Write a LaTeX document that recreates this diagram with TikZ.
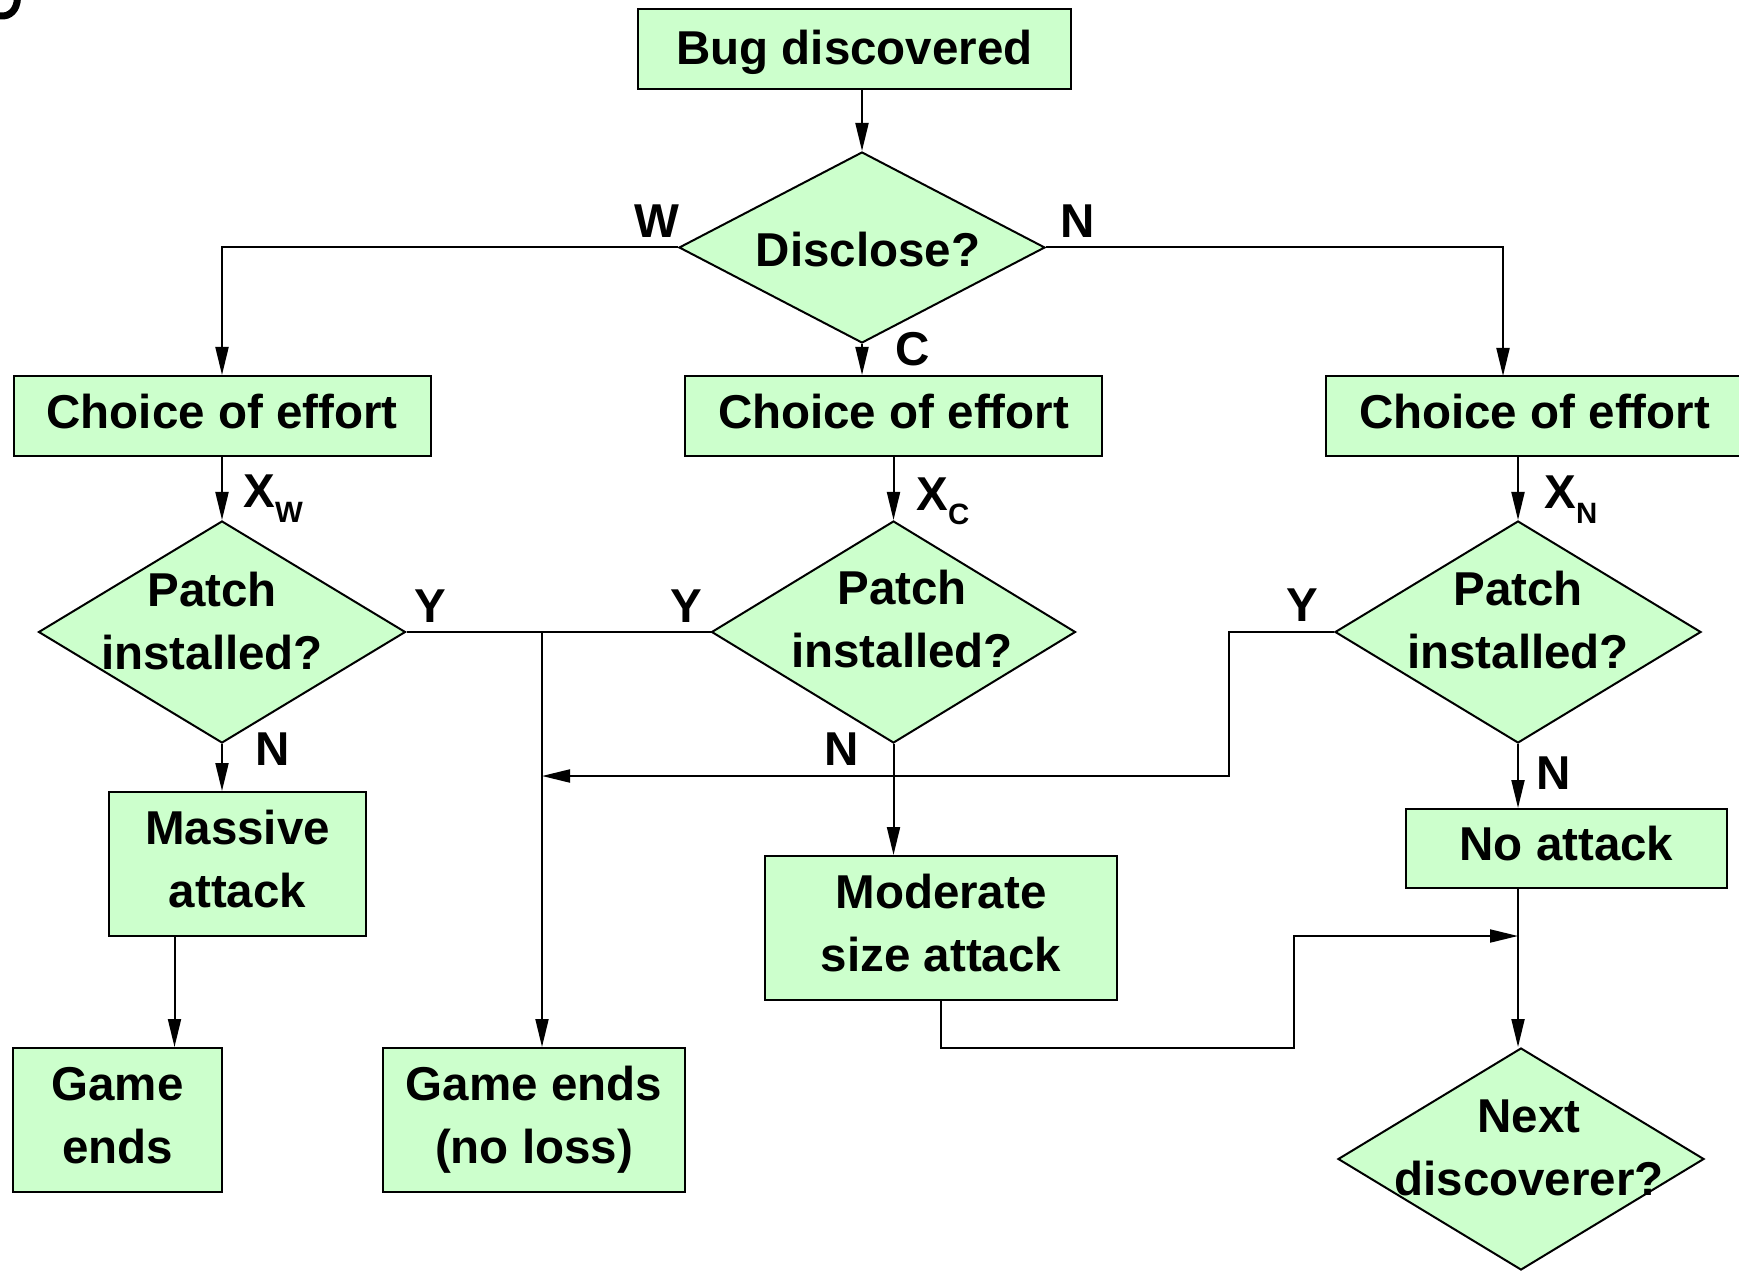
\documentclass[tikz,border=0pt]{standalone}
\usepackage{fontspec}
\setmainfont{Liberation Sans}
\usetikzlibrary{shapes.geometric,arrows.meta}
\definecolor{boxgreen}{RGB}{204,255,204}
\newcommand{\bigf}{\fontsize{23.75}{31.5}\selectfont\bfseries}
\newcommand{\subf}{\fontsize{14.7}{15}\selectfont\bfseries}
\newcommand{\lowstrut}{\rule[-5pt]{0pt}{5pt}}
\begin{document}
\begin{tikzpicture}[x=0.5pt,y=-0.5pt,
  box/.style={draw=black, line width=1pt, fill=boxgreen, rectangle, inner sep=0pt, font=\bigf, align=center},
  dia/.style={draw=black, line width=1pt, fill=boxgreen, diamond, inner sep=0pt},
  dtext/.style={inner sep=0pt, font=\bigf, align=center},
  lbl/.style={inner sep=0pt, font=\bigf},
  arr/.style={line width=1pt, -{Triangle[length=14pt,width=6.5pt]}},
  conn/.style={line width=1pt}]
\useasboundingbox (0,0) rectangle (1739,1272);
\clip (0,0) rectangle (1739,1272);
% fragment at top left
\draw[line width=3.5pt] (0,16) .. controls (10,17) and (17,10) .. (17.5,-2);
% rectangles
\node[box, minimum width=216.5pt, minimum height=40pt] (bug) at (854.5,49) {\rule{0pt}{21pt}Bug discovered\lowstrut};
\node[box, minimum width=208.5pt, minimum height=40pt] (coeL) at (222,416) {Choice of effort\lowstrut};
\node[box, minimum width=208.5pt, minimum height=40pt] (coeC) at (893.5,416) {Choice of effort\lowstrut};
\node[box, minimum width=208.5pt, minimum height=40pt] (coeR) at (1534.5,416) {Choice of effort\lowstrut};
\node[box, minimum width=128.5pt, minimum height=72pt] (mas) at (237.5,864) {Massive\\attack\lowstrut};
\node[box, minimum width=176pt, minimum height=72pt] (mod) at (941,928) {Moderate\\size attack\lowstrut};
\node[box, minimum width=160.5pt, minimum height=39.5pt] (noa) at (1566.5,848.5) {No attack\lowstrut};
\node[box, minimum width=104.5pt, minimum height=72pt] (ge1) at (117.5,1120) {Game\\ends\lowstrut};
\node[box, minimum width=151pt, minimum height=72pt] (ge2) at (534,1120) {Game ends\\(no loss)\lowstrut};
% diamonds
\node[dia, minimum width=183pt, minimum height=95.5pt] (dis) at (862,247.5) {};
\node[dtext] (disT) at (868,250) {Disclose?};
\node[dia, minimum width=183.5pt, minimum height=111pt] (pL) at (222,632) {};
\node[dtext] (pLT) at (212,621) {Patch\\installed?};
\node[dia, minimum width=182pt, minimum height=111pt] (pC) at (893.5,632) {};
\node[dtext] (pCT) at (902,619) {Patch\\installed?};
\node[dia, minimum width=183pt, minimum height=111pt] (pR) at (1518,632) {};
\node[dtext] (pRT) at (1518,620.5) {Patch\\installed?};
\node[dia, minimum width=183pt, minimum height=111pt] (nd) at (1521,1159) {};
\node[dtext] (ndT) at (1529,1148) {Next\\discoverer?};
% labels
\node[lbl, anchor=base] (lW) at (657,238) {W};
\node[lbl, anchor=base] (lN) at (1078,238) {N};
\node[lbl, anchor=base] (lC) at (913,366) {C};
\node[lbl, anchor=base west] (lXW) at (243,508) {X\raisebox{-7.5pt}{\subf W}};
\node[lbl, anchor=base west] (lXC) at (916,510) {X\raisebox{-7pt}{\subf C}};
\node[lbl, anchor=base west] (lXN) at (1544,509) {X\raisebox{-7.5pt}{\subf N}};
\node[lbl, anchor=base] (lY1) at (430,622) {Y};
\node[lbl, anchor=base] (lY2) at (686,622) {Y};
\node[lbl, anchor=base] (lY3) at (1302,621) {Y};
\node[lbl, anchor=base] (lN1) at (273,765) {N};
\node[lbl, anchor=base] (lN2) at (842,765) {N};
\node[lbl, anchor=base] (lN3) at (1554,789) {N};
% helper coordinates
\coordinate (rN) at (1503,376);
\coordinate (jn) at (542,632);
\coordinate (kR) at (1229,776);
\coordinate (kL) at (542,776);
\coordinate (bend) at (1294,1047.5);
\coordinate (bend2) at (1294,936);
\coordinate (mtip) at (1518,936);
\coordinate (mA) at (174.5,936);
% connectors
\draw[arr] (dis.north |- bug.south) -- (dis.north);
\draw[arr] (dis.west) -| (coeL.north);
\draw[arr] (dis.east) -| (rN);
\draw[arr] (dis.south) -- (dis.south |- coeC.north);
\draw[arr] (coeL.south) -- (pL.north);
\draw[arr] (coeC.south) -- (pC.north);
\draw[arr] (pR.north |- coeR.south) -- (pR.north);
\draw[conn] (pL.east) -- (pC.west);
\draw[arr] (jn) -- (jn |- ge2.north);
\draw[arr] (pR.west) -| (kR) -- (kL);
\draw[arr] (pC.south) -- (pC.south |- mod.north);
\draw[arr] (pL.south) -- (pL.south |- mas.north);
\draw[arr] (mA) -- (mA |- ge1.north);
\draw[arr] (pR.south) -- (pR.south |- noa.north);
\draw[arr] (mtip |- noa.south) -- (mtip |- nd.north);
\draw[arr] (mod.south) |- (bend) -- (bend2) -- (mtip);
\end{tikzpicture}
\end{document}
